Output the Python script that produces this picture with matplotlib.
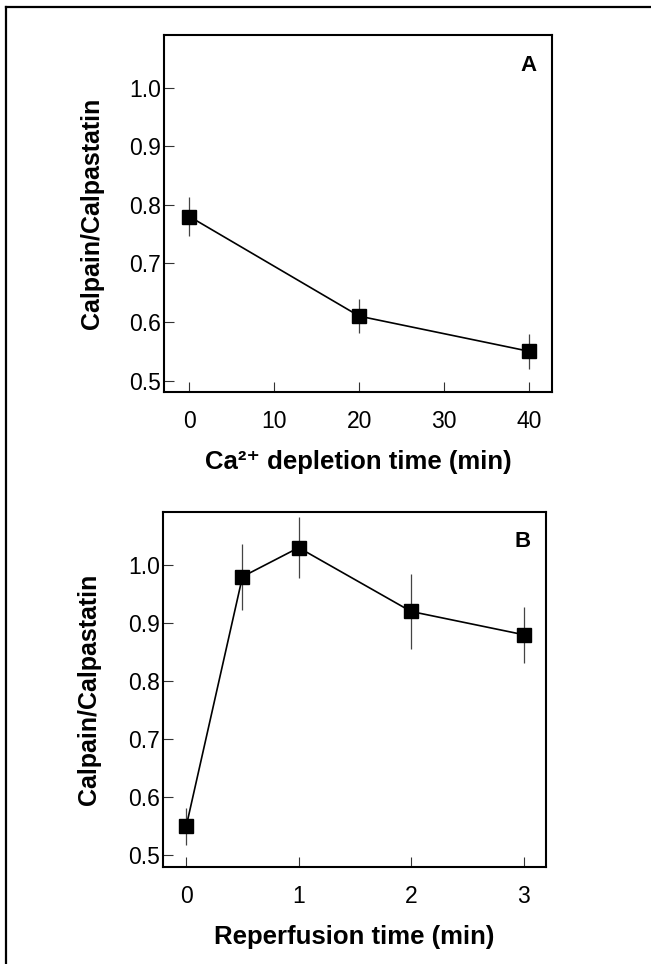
import matplotlib
matplotlib.use("Agg")
import matplotlib.pyplot as plt
from matplotlib.lines import Line2D

plt.rcParams['font.family'] = ['Liberation Sans', 'DejaVu Sans']

# Panel A data
a_time = [0, 20, 40]
a_ratio = [0.78, 0.61, 0.55]
a_err = [0.033, 0.029, 0.03]
a_xticks = [0, 10, 20, 30, 40]

# Panel B data
b_time = [0, 0.5, 1, 2, 3]
b_ratio = [0.55, 0.98, 1.03, 0.92, 0.88]
b_err = [0.032, 0.057, 0.053, 0.065, 0.048]
b_xticks = [0, 1, 2, 3]

yticks = [0.5, 0.6, 0.7, 0.8, 0.9, 1.0]
ylabel = "Calpain/Calpastatin"

W, H = 651, 964
fig = plt.figure(figsize=(W / 100, H / 100), dpi=100)

# outer frame (only left and top visible)
fig.add_artist(Line2D([6 / W, 6 / W], [0, 1 - 7 / H], transform=fig.transFigure, color='black', lw=1.6))
fig.add_artist(Line2D([6 / W, 1], [1 - 7 / H, 1 - 7 / H], transform=fig.transFigure, color='black', lw=1.6))

axA = fig.add_axes([164 / W, 1 - 391.7 / H, 388 / W, 356.7 / H])
axB = fig.add_axes([163 / W, 1 - 866.7 / H, 383 / W, 355 / H])


def style(ax, x, y, err, xticks, xlim, ylim, xlabel, letter, ylab_x, xlab_y):
    ax.errorbar(x, y, yerr=err, fmt='none', ecolor='#444444', elinewidth=0.9, capsize=0, zorder=2)
    ax.plot(x, y, color='black', lw=1.2, marker='s', markersize=9.5, markerfacecolor='black',
            markeredgecolor='black', zorder=3)
    ax.set_xlim(*xlim)
    ax.set_ylim(*ylim)
    ax.set_xticks(xticks)
    ax.set_yticks(yticks)
    ax.set_yticklabels([f"{v:.1f}" for v in yticks])
    ax.tick_params(direction='in', length=7, width=0.8, labelsize=16.5, color='#333333')
    ax.tick_params(axis='y', pad=2)
    ax.tick_params(axis='x', pad=13)
    for s in ax.spines.values():
        s.set_linewidth(1.5)
    ax.set_ylabel(ylabel, fontsize=18, fontweight='bold')
    ax.yaxis.set_label_coords(ylab_x, 0.5)
    ax.set_xlabel(xlabel, fontsize=18.5, fontweight='bold')
    ax.xaxis.set_label_coords(0.5, xlab_y)
    ax.text(0.96, 0.945, letter, transform=ax.transAxes, ha='right', va='top',
            fontsize=16, fontweight='bold')


style(axA, a_time, a_ratio, a_err, a_xticks, (-3, 42.7), (0.481, 1.09),
      "Ca\u00b2\u207a depletion time (min)", "A", (104 - 164) / 388, (391.7 - 450) / 356.7)
style(axB, b_time, b_ratio, b_err, b_xticks, (-0.207, 3.2), (0.48, 1.092),
      "Reperfusion time (min)", "B", (101 - 163) / 383, (866.7 - 925) / 355)

fig.savefig("out.png", dpi=100)
